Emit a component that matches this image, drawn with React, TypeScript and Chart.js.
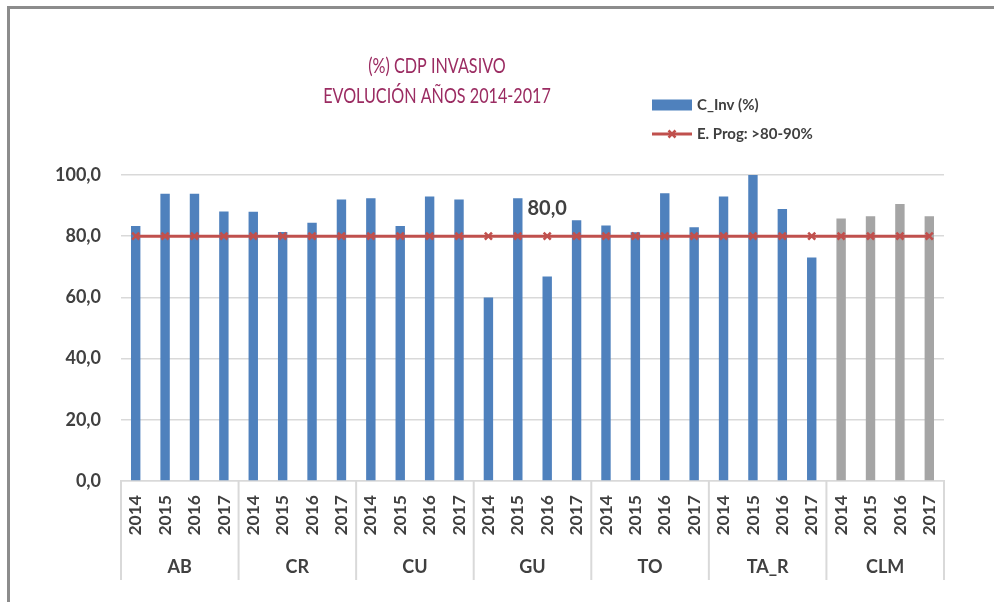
import React, { useEffect, useRef } from 'react';
import { Chart, registerables } from 'chart.js';

Chart.register(...registerables);

const groups = ['AB', 'CR', 'CU', 'GU', 'TO', 'TA_R', 'CLM'];
const years = ['2014', '2015', '2016', '2017'];
const cInv = [
  83.3, 93.9, 93.9, 88.1,
  88.0, 81.4, 84.4, 92.0,
  92.4, 83.3, 93.0, 92.0,
  60.0, 92.4, 66.8, 85.2,
  83.5, 81.3, 94.0, 82.9,
  93.0, 100.0, 88.9, 73.0,
  85.8, 86.5, 90.5, 86.5,
];
const eProg = [
  80, 80, 80, 80,
  80, 80, 80, 80,
  80, 80, 80, 80,
  80, 80, 80, 80,
  80, 80, 80, 80,
  80, 80, 80, 80,
  80, 80, 80, 80,
];
const yTicks = [0, 20, 40, 60, 80, 100];
const titleLines = ['(%) CDP INVASIVO', 'EVOLUCIÓN AÑOS 2014-2017'];
const seriesNames = ['C_Inv (%)', 'E. Prog: >80-90%'];
const dataLabelIndex = 14;
const totalGroups = ['CLM'];

const BLUE = '#4F81BD';
const GREY = '#A5A5A5';
const RED = '#C0504D';
const TEXT = '#404040';
const GRID = '#D9D9D9';
const FONT = 'Lato';

const fmt = (v: number) => v.toFixed(1).replace('.', ',');

const labels: string[] = [];
const barColors: string[] = [];
groups.forEach((g) => {
  years.forEach((y) => {
    labels.push(g + ' ' + y);
    barColors.push(totalGroups.includes(g) ? GREY : BLUE);
  });
});

const decorPlugin = {
  id: 'decor',
  beforeDraw(chart: any) {
    const ctx = chart.ctx;
    ctx.save();
    ctx.fillStyle = '#ffffff';
    ctx.fillRect(0, 0, chart.width, chart.height);
    ctx.fillStyle = '#8C8C8C';
    ctx.fillRect(7, 6, chart.width - 7, 3);
    ctx.fillRect(7, 6, 3, chart.height - 6);
    ctx.restore();
  },
  afterDraw(chart: any) {
    const ctx = chart.ctx;
    const xs = chart.scales.x;
    const area = chart.chartArea;
    ctx.save();
    // Title (narrowed to mimic Calibri proportions)
    ctx.save();
    ctx.translate(437, 0);
    ctx.scale(0.77, 1);
    ctx.fillStyle = '#9B2C62';
    ctx.font = `21px ${FONT}`;
    ctx.textAlign = 'center';
    ctx.textBaseline = 'middle';
    ctx.fillText(titleLines[0], 0, 66);
    ctx.fillText(titleLines[1], 0, 96);
    ctx.restore();

    // Legend
    ctx.fillStyle = BLUE;
    ctx.fillRect(652, 99.5, 40, 11);
    ctx.strokeStyle = RED;
    ctx.lineWidth = 3;
    ctx.beginPath();
    ctx.moveTo(652, 134);
    ctx.lineTo(692, 134);
    ctx.stroke();
    ctx.lineWidth = 2.5;
    ctx.beginPath();
    ctx.moveTo(668.5, 130.5);
    ctx.lineTo(675.5, 137.5);
    ctx.moveTo(675.5, 130.5);
    ctx.lineTo(668.5, 137.5);
    ctx.stroke();
    ctx.fillStyle = TEXT;
    ctx.font = `bold 15px ${FONT}`;
    ctx.textAlign = 'left';
    ctx.textBaseline = 'middle';
    ctx.fillText(seriesNames[0], 697, 105);
    ctx.fillText(seriesNames[1], 697, 134);

    // Data label
    const lineMeta = chart.getDatasetMeta(0);
    const pt = lineMeta.data[dataLabelIndex];
    if (pt) {
      ctx.font = `bold 20px ${FONT}`;
      ctx.textAlign = 'center';
      ctx.fillStyle = TEXT;
      ctx.fillText(fmt(eProg[dataLabelIndex]), pt.x, pt.y - 28);
    }

    // Group separators and labels
    const n = years.length;
    ctx.strokeStyle = GRID;
    ctx.lineWidth = 2;
    for (let g = 0; g <= groups.length; g++) {
      let x: number;
      if (g === 0) x = xs.left;
      else if (g === groups.length) x = xs.right;
      else x = (xs.getPixelForValue(g * n - 1) + xs.getPixelForValue(g * n)) / 2;
      ctx.beginPath();
      ctx.moveTo(x, area.bottom);
      ctx.lineTo(x, area.bottom + 99);
      ctx.stroke();
    }
    ctx.fillStyle = TEXT;
    ctx.font = `bold 18px ${FONT}`;
    ctx.textAlign = 'center';
    ctx.textBaseline = 'middle';
    groups.forEach((g, i) => {
      const x = (xs.getPixelForValue(i * n) + xs.getPixelForValue(i * n + n - 1)) / 2;
      ctx.fillText(g, x, area.bottom + 86);
    });
    ctx.restore();
  },
};

export default function App() {
  const ref = useRef<HTMLCanvasElement | null>(null);
  useEffect(() => {
    if (!ref.current) return;
    const chart = new Chart(ref.current, {
      type: 'bar',
      data: {
        labels,
        datasets: [
          {
            type: 'line',
            label: seriesNames[1],
            data: eProg,
            borderColor: RED,
            backgroundColor: RED,
            borderWidth: 3,
            pointStyle: 'crossRot',
            pointRadius: 5,
            pointBorderWidth: 2.5,
            pointBorderColor: RED,
            order: 0,
          } as any,
          {
            type: 'bar',
            label: seriesNames[0],
            data: cInv,
            backgroundColor: barColors,
            barPercentage: 0.32,
            categoryPercentage: 1,
            order: 1,
          },
        ],
      },
      options: {
        animation: false,
        responsive: false,
        events: [],
        layout: { padding: { left: 0, right: 50, top: 175, bottom: 0 } },
        plugins: {
          legend: { display: false },
          title: { display: false },
          tooltip: { enabled: false },
        },
        scales: {
          x: {
            offset: true,
            grid: { display: false, drawTicks: false },
            border: { display: true, color: GRID, width: 1.5 },
            ticks: {
              autoSkip: false,
              minRotation: 90,
              maxRotation: 90,
              padding: 14,
              color: TEXT,
              font: { family: FONT, size: 17.5, weight: 'bold' },
              callback: (_v: any, i: number) => years[i % years.length],
            },
            afterFit: (scale: any) => {
              scale.height = 121;
            },
          },
          y: {
            min: yTicks[0],
            max: yTicks[yTicks.length - 1],
            grid: { color: GRID, lineWidth: 1.5, drawTicks: false },
            border: { display: false },
            afterBuildTicks: (scale: any) => {
              scale.ticks = yTicks.map((v) => ({ value: v }));
            },
            ticks: {
              padding: 20,
              color: TEXT,
              font: { family: FONT, size: 18, weight: 'bold' },
              callback: (v: any) => fmt(Number(v)),
            },
            afterFit: (scale: any) => {
              scale.width = 121;
            },
          },
        },
      },
      plugins: [decorPlugin],
    });
    return () => chart.destroy();
  }, []);
  return (
    <div style={{ position: 'absolute', left: 0, top: 0, width: 994, height: 602 }}>
      <canvas ref={ref} width={994} height={602} style={{ display: 'block' }} />
    </div>
  );
}
